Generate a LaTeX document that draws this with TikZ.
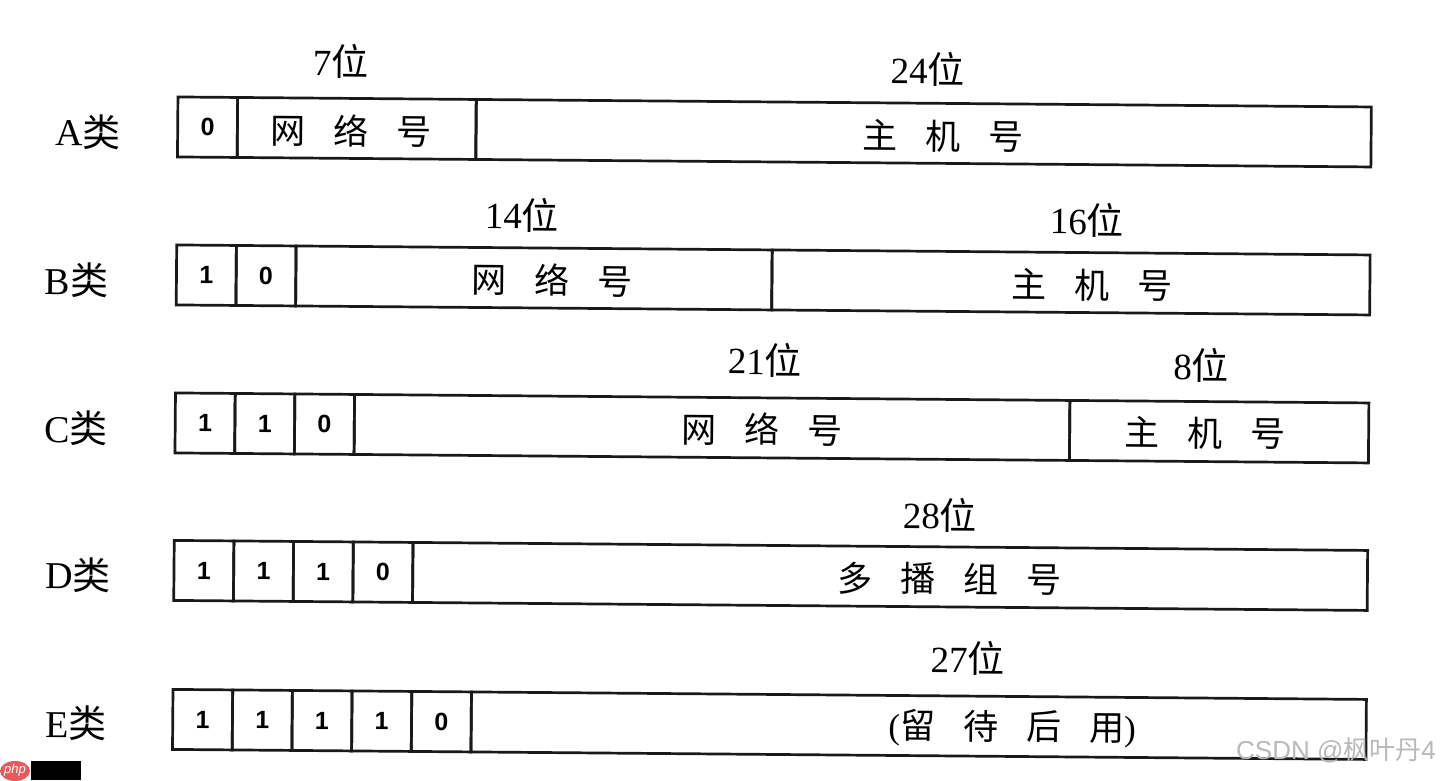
\documentclass[tikz,border=0pt]{standalone}
\usepackage{fontspec}
\setmainfont{Liberation Serif}
\newfontfamily\cjk{Noto Sans CJK SC}
\newfontfamily\bitfont{Liberation Sans}
\newfontfamily\wmfont{Liberation Sans}
\newcommand\fgap{\hspace{28pt}}
\definecolor{phpred}{HTML}{E65A5C}
\begin{document}
\begin{tikzpicture}[x=1pt,y=-1pt,
  box/.style={draw=black!90, line width=2.7pt, inner sep=0pt, outer sep=0pt, minimum height=60pt, anchor=north west},
  bit/.style={box, minimum width=59.7pt, font=\bitfont\bfseries\fontsize{25}{25}\selectfont},
  cls/.style={font=\fontsize{38}{38}\selectfont, inner sep=0pt},
  wid/.style={font=\fontsize{37}{37}\selectfont, inner sep=0pt},
  ftxt/.style={font=\cjk\fontsize{35}{35}\selectfont, inner sep=0pt}]
\useasboundingbox (0,0) rectangle (1440,780);
\fill[white] (0,0) rectangle (1440,780);
\begin{scope}[rotate around={-0.48:(720,390)}, transform shape]
% Row A
\node[cls] (la) at (86,137) {A{\cjk 类}};
\node[bit] (a1) at (175.5,101.5) {0};
\node[box, minimum width=238.5pt] (anet) at (235.2,101.5) {};
\node[box, minimum width=895pt] (ahost) at (474,101.5) {};
\node[wid] (wa1) at (338,65) {7{\cjk 位}};
\node[wid] (wa2) at (925,68) {24{\cjk 位}};
\node[ftxt] (ta1) at (349,134) {网\fgap 络\fgap 号};
\node[ftxt] (ta2) at (941,134) {主\fgap 机\fgap 号};
% Row B
\node[cls] (lb) at (75.6,286) {B{\cjk 类}};
\node[bit] (b1) at (175.5,249.5) {1};
\node[bit] (b2) at (235.2,249.5) {0};
\node[box, minimum width=476.1pt] (bnet) at (294.9,249.5) {};
\node[box, minimum width=598pt] (bhost) at (771,249.5) {};
\node[wid] (wb1) at (520.5,216.5) {14{\cjk 位}};
\node[wid] (wb2) at (1085.5,217) {16{\cjk 位}};
\node[ftxt] (tb1) at (551,281.5) {网\fgap 络\fgap 号};
\node[ftxt] (tb2) at (1091,282) {主\fgap 机\fgap 号};
% Row C
\node[cls] (lc) at (76.3,434) {C{\cjk 类}};
\node[bit] (c1) at (175.5,397.5) {1};
\node[bit] (c2) at (235.2,397.5) {1};
\node[bit] (c3) at (294.9,397.5) {0};
\node[box, minimum width=715.4pt] (cnet) at (354.6,397.5) {};
\node[box, minimum width=299pt] (chost) at (1070,397.5) {};
\node[wid] (wc1) at (764.7,359.6) {21{\cjk 位}};
\node[wid] (wc2) at (1201,361) {8{\cjk 位}};
\node[ftxt] (tc1) at (762,429) {网\fgap 络\fgap 号};
\node[ftxt] (tc2) at (1205,429) {主\fgap 机\fgap 号};
% Row D
\node[cls] (ld) at (79.5,580) {D{\cjk 类}};
\node[bit] (d1) at (175.5,545) {1};
\node[bit] (d2) at (235.2,545) {1};
\node[bit] (d3) at (294.9,545) {1};
\node[bit] (d4) at (354.6,545) {0};
\node[box, minimum width=954.7pt] (drest) at (414.3,545) {};
\node[wid] (wd1) at (941,513) {28{\cjk 位}};
\node[ftxt] (td1) at (951.5,577) {多\fgap 播\fgap 组\fgap 号};
% Row E
\node[cls] (le) at (79.3,729) {E{\cjk 类}};
\node[bit] (e1) at (175.5,694) {1};
\node[bit] (e2) at (235.2,694) {1};
\node[bit] (e3) at (294.9,694) {1};
\node[bit] (e4) at (354.6,694) {1};
\node[bit] (e5) at (414.3,694) {0};
\node[box, minimum width=895pt] (erest) at (474,694) {};
\node[wid] (we1) at (970,656) {27{\cjk 位}};
\node[ftxt] (te1) at (1015,726) {{\rmfamily(}留\fgap 待\fgap 后\fgap 用{\rmfamily)}};
\end{scope}
% watermark
\node[font=\wmfont\fontsize{26}{26}\selectfont, text=gray!55, inner sep=0pt] (wm) at (1336,750) {CSDN @{\cjk 枫叶丹}4};
% php logo
\fill[phpred] (15,771) ellipse [x radius=15, y radius=10];
\node[font=\bitfont\itshape\fontsize{13}{13}\selectfont, text=white, inner sep=0pt] (php) at (15,770) {php};
\fill[black] (31,761) rectangle (81,780);
\end{tikzpicture}
\end{document}
